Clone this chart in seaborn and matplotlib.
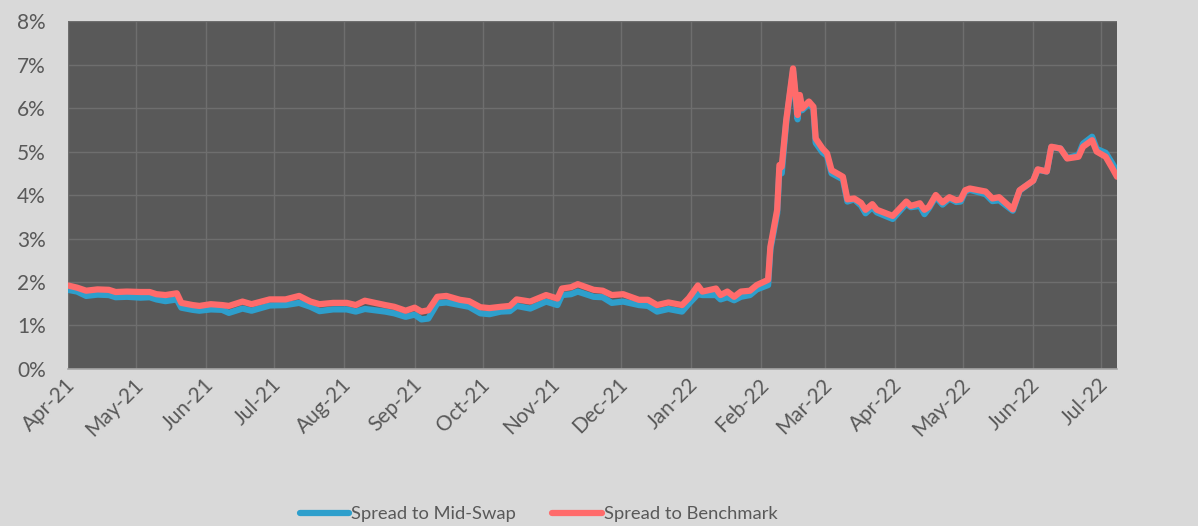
import pandas as pd
import numpy as np
import matplotlib
matplotlib.use("Agg")
import matplotlib.pyplot as plt
import matplotlib.dates as mdates
import matplotlib.transforms as mtransforms
from matplotlib.ticker import PercentFormatter
import seaborn as sns

dates = [
    "2021-04-01", "2021-04-05", "2021-04-09", "2021-04-14", "2021-04-19", "2021-04-22",
    "2021-04-27", "2021-05-03", "2021-05-07", "2021-05-10", "2021-05-14", "2021-05-19",
    "2021-05-21", "2021-05-26", "2021-05-29", "2021-06-03", "2021-06-08", "2021-06-11",
    "2021-06-17", "2021-06-21", "2021-06-29", "2021-07-06", "2021-07-12", "2021-07-17",
    "2021-07-21", "2021-07-27", "2021-08-02", "2021-08-06", "2021-08-10", "2021-08-19",
    "2021-08-23", "2021-08-28", "2021-09-01", "2021-09-04", "2021-09-07", "2021-09-11",
    "2021-09-15", "2021-09-21", "2021-09-25", "2021-09-30", "2021-10-04", "2021-10-09",
    "2021-10-13", "2021-10-16", "2021-10-22", "2021-10-29", "2021-11-03", "2021-11-05",
    "2021-11-09", "2021-11-12", "2021-11-19", "2021-11-23", "2021-11-27", "2021-12-02",
    "2021-12-09", "2021-12-13", "2021-12-17", "2021-12-22", "2021-12-28", "2021-12-31",
    "2022-01-04", "2022-01-06", "2022-01-12", "2022-01-14", "2022-01-17", "2022-01-20",
    "2022-01-23", "2022-01-27", "2022-01-30", "2022-02-04", "2022-02-05", "2022-02-08",
    "2022-02-09", "2022-02-10", "2022-02-12", "2022-02-15", "2022-02-17", "2022-02-18",
    "2022-02-19", "2022-02-22", "2022-02-24", "2022-02-25", "2022-02-28", "2022-03-02",
    "2022-03-04", "2022-03-09", "2022-03-11", "2022-03-14", "2022-03-17", "2022-03-19",
    "2022-03-22", "2022-03-24", "2022-03-31", "2022-04-06", "2022-04-08", "2022-04-12",
    "2022-04-14", "2022-04-16", "2022-04-19", "2022-04-22", "2022-04-25", "2022-04-28",
    "2022-04-30", "2022-05-02", "2022-05-04", "2022-05-11", "2022-05-14", "2022-05-17",
    "2022-05-20", "2022-05-23", "2022-05-26", "2022-06-01", "2022-06-03", "2022-06-07",
    "2022-06-09", "2022-06-13", "2022-06-16", "2022-06-21", "2022-06-23", "2022-06-27",
    "2022-06-29", "2022-07-03", "2022-07-06", "2022-07-08",
]

# spread to benchmark (%)
benchmark = [
    1.92, 1.87, 1.80, 1.83, 1.82, 1.77,
    1.78, 1.77, 1.77, 1.72, 1.70, 1.74,
    1.52, 1.47, 1.45, 1.49, 1.47, 1.45,
    1.55, 1.49, 1.60, 1.60, 1.68, 1.55,
    1.49, 1.52, 1.52, 1.47, 1.57, 1.47,
    1.43, 1.34, 1.41, 1.32, 1.35, 1.66,
    1.68, 1.59, 1.56, 1.42, 1.40, 1.43,
    1.45, 1.60, 1.55, 1.70, 1.62, 1.85,
    1.88, 1.95, 1.82, 1.80, 1.70, 1.72,
    1.59, 1.59, 1.47, 1.53, 1.47, 1.63,
    1.92, 1.78, 1.85, 1.70, 1.78, 1.66,
    1.78, 1.80, 1.93, 2.05, 2.81, 3.66,
    4.69, 4.65, 5.72, 6.91, 5.84, 6.30,
    5.99, 6.15, 6.03, 5.30, 5.07, 4.96,
    4.57, 4.42, 3.90, 3.92, 3.82, 3.66,
    3.79, 3.66, 3.52, 3.85, 3.75, 3.81,
    3.66, 3.73, 4.00, 3.83, 3.95, 3.88,
    3.90, 4.11, 4.15, 4.08, 3.92, 3.95,
    3.81, 3.67, 4.11, 4.33, 4.59, 4.54,
    5.11, 5.07, 4.84, 4.88, 5.11, 5.26,
    5.00, 4.88, 4.61, 4.42,
]

# spread to mid-swap (%)
mid_swap = [
    1.82, 1.78, 1.68, 1.71, 1.70, 1.65,
    1.66, 1.64, 1.65, 1.60, 1.56, 1.60,
    1.41, 1.36, 1.34, 1.37, 1.36, 1.29,
    1.39, 1.34, 1.46, 1.47, 1.52, 1.43,
    1.33, 1.37, 1.37, 1.32, 1.38, 1.32,
    1.28, 1.20, 1.25, 1.14, 1.16, 1.51,
    1.53, 1.47, 1.43, 1.28, 1.26, 1.32,
    1.33, 1.45, 1.39, 1.55, 1.47, 1.70,
    1.72, 1.78, 1.66, 1.65, 1.52, 1.55,
    1.47, 1.45, 1.32, 1.38, 1.32, 1.50,
    1.72, 1.70, 1.70, 1.60, 1.65, 1.58,
    1.66, 1.70, 1.83, 1.93, 2.75, 3.58,
    4.60, 4.50, 5.68, 6.85, 5.74, 6.25,
    5.95, 6.10, 5.98, 5.20, 4.98, 4.90,
    4.50, 4.36, 3.85, 3.90, 3.76, 3.58,
    3.72, 3.60, 3.45, 3.80, 3.72, 3.75,
    3.56, 3.70, 3.96, 3.78, 3.92, 3.84,
    3.85, 4.08, 4.12, 4.02, 3.86, 3.88,
    3.76, 3.64, 4.10, 4.33, 4.58, 4.54,
    5.10, 5.07, 4.85, 4.92, 5.18, 5.34,
    5.06, 4.97, 4.72, 4.54,
]

series_names = ["Spread to Mid-Swap", "Spread to Benchmark"]
colors = ["#2e9fcc", "#ff6b6b"]

df = pd.DataFrame({
    "date": pd.to_datetime(dates * 2),
    "spread": mid_swap + benchmark,
    "series": [series_names[0]] * len(dates) + [series_names[1]] * len(dates),
})

sns.set_style("white")
plt.rcParams["font.family"] = ["Lato", "DejaVu Sans"]

fig = plt.figure(figsize=(11.98, 5.26), dpi=100, facecolor="#d9d9d9")
ax = fig.add_axes([0.0568, 0.2985, 0.8756, 0.6615])
ax.set_facecolor("#595959")

sns.lineplot(data=df, x="date", y="spread", hue="series", palette=colors,
             hue_order=series_names, linewidth=4.5, ax=ax, legend=False)

ax.set_ylim(0, 8)
ax.set_xlim(pd.Timestamp("2021-04-01"), pd.Timestamp("2022-07-08"))
ax.yaxis.set_major_locator(plt.MultipleLocator(1))
ax.yaxis.set_major_formatter(PercentFormatter(xmax=100, decimals=0))
ax.xaxis.set_major_locator(mdates.MonthLocator())
ax.xaxis.set_major_formatter(mdates.DateFormatter("%b-%y"))

ax.grid(True, color="#6e6e6e", linewidth=1.0)
ax.set_axisbelow(True)
for s in ["top", "left", "right"]:
    ax.spines[s].set_visible(False)
ax.spines["bottom"].set_color("#a6a6a6")
ax.spines["bottom"].set_linewidth(1.2)

ax.set_xlabel("")
ax.set_ylabel("")
ax.tick_params(axis="y", length=0, pad=16, labelsize=15, labelcolor="#595959")
ax.tick_params(axis="x", length=0, pad=9, labelsize=15, labelcolor="#595959")
shift = mtransforms.ScaledTranslation(4 / 100, 0, fig.dpi_scale_trans)
for lbl in ax.get_xticklabels():
    lbl.set_rotation(45)
    lbl.set_ha("right")
    lbl.set_va("center")
    lbl.set_rotation_mode("anchor")
    lbl.set_transform(lbl.get_transform() + shift)

handles = [plt.Line2D([], [], color=c, linewidth=4.5, solid_capstyle="round") for c in colors]
fig.legend(handles, series_names, loc="center", bbox_to_anchor=(0.4495, 0.022),
           ncol=2, frameon=False, fontsize=13.2, labelcolor="#595959",
           handlelength=2.7, handletextpad=0.1, columnspacing=2.0)

fig.savefig("out.png", dpi=100, facecolor=fig.get_facecolor())
